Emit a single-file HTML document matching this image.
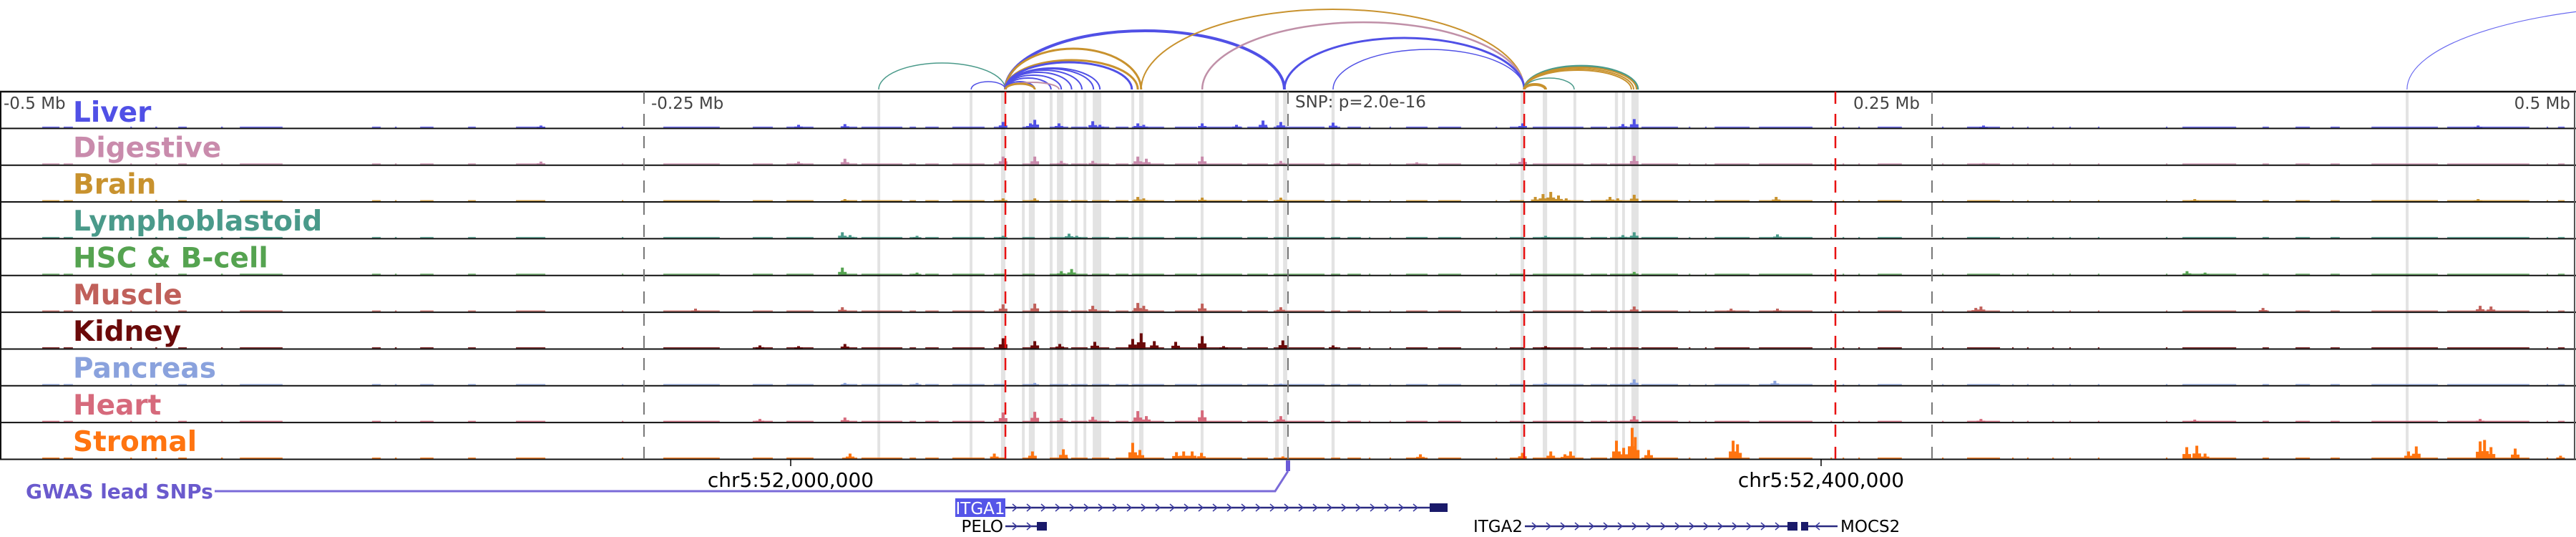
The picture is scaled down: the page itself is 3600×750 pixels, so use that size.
<!DOCTYPE html>
<html><head><meta charset="utf-8">
<style>
html,body{margin:0;padding:0;background:#fff;}
svg{display:block;}
.lbl{font-family:"DejaVu Sans","Liberation Sans",sans-serif;font-weight:bold;font-size:39px;}
.ax{font-family:"DejaVu Sans","Liberation Sans",sans-serif;font-size:23px;fill:#444;}
.gn{font-family:"DejaVu Sans","Liberation Sans",sans-serif;font-size:23px;}
</style></head>
<body>
<svg id="chart" width="3600" height="750" viewBox="0 0 3600 750" xmlns="http://www.w3.org/2000/svg">
<g id="highlights"></g>
<g id="arcs"></g>
<g id="tracks"></g>
<g id="guides"></g>
<g id="labels"></g>
<text class="ax" x="5" y="152">-0.5 Mb</text>
<text class="ax" x="910" y="152">-0.25 Mb</text>
<text class="ax" x="1810" y="150">SNP: p=2.0e-16</text>
<text class="ax" x="2590" y="152">0.25 Mb</text>
<text class="ax" x="3592" y="152" text-anchor="end">0.5 Mb</text>
<g id="bottom">
<line x1="1105" y1="641" x2="1105" y2="651" stroke="#000" stroke-width="1.5"/>
<line x1="2545" y1="641" x2="2545" y2="651" stroke="#000" stroke-width="1.5"/>
<text x="1105" y="680" text-anchor="middle" style="font-family:'DejaVu Sans','Liberation Sans',sans-serif;font-size:28px">chr5:52,000,000</text>
<text x="2545" y="680" text-anchor="middle" style="font-family:'DejaVu Sans','Liberation Sans',sans-serif;font-size:28px">chr5:52,400,000</text>
</g>
<g>
<rect x="1797" y="643" width="6" height="15" fill="#6a5ad8"/>
<polyline points="1800,658 1782,686 300,686" fill="none" stroke="#7a6ad8" stroke-width="3"/>
<text x="36" y="696" style="font-family:'DejaVu Sans','Liberation Sans',sans-serif;font-size:28px;font-weight:bold" fill="#6a5acd">GWAS lead SNPs</text>
</g>
<g id="genes"></g>
</svg>
<script>
// ---- data ----
const trackNames = ["Liver","Digestive","Brain","Lymphoblastoid","HSC & B-cell","Muscle","Kidney","Pancreas","Heart","Stromal"];
const trackColors = ["#5050e6","#c98bac","#c8922e","#4a9a8a","#55a350","#c0605a","#6b0a0a","#8aa2dd","#d66a7c","#ff7410"];
const baseSegments = [[-483.6,-476.9],[-475.3,-471.7],[-449.4,-448.8],[-439.7,-439],[-430.8,-427.5],[-414.2,-413.5],[-406.9,-390.3],[-355.6,-352.2],[-346.7,-346],[-336.9,-331.7],[-318.3,-315.3],[-299.7,-288.3],[-258.6,-258],[-242.5,-220.6],[-207.8,-200],[-194.7,-184.2],[-173.1,-167.2],[-165.6,-149.7],[-146.9,-144.4],[-140.8,-135.6],[-130.3,-117.8],[-114.2,-109.7],[-103.1,-98.3],[-92.5,-85.3],[-84.2,-77.8],[-76.1,-69.4],[-66.9,-61.9],[-60.6,-48.1],[-43.9,-35.3],[-33.9,-17.8],[-15.8,-7.8],[-5.6,14.2],[16.7,20.3],[23.1,28.3],[31.4,32],[39.4,40],[45.8,54.2],[58.3,67.2],[80.6,81.2],[86.1,91.7],[95,114.7],[117.5,123.9],[125,136.1],[137.2,151.4],[155.6,156.2],[161.9,162.5],[165.6,179.2],[182.8,203.6],[210.6,211.2],[215.3,215.9],[221.4,222],[228.9,238.3],[253.9,254.5],[263.6,276.4],[281.1,281.7],[286.9,287.5],[296.7,297.3],[303.3,303.9],[314.4,315],[340.8,341.4],[347.2,368.1],[378.3,380.8],[391.1,396.7],[404.7,408.3],[420.6,446.4],[450,481.9],[488.6,489.2],[493,495.6]];
const peaksLiver = [[-110.6,8],[-98.3,11],[-100,6],[-88.9,6],[-75.8,9],[-73,4],[-58.3,6],[-56,4],[-33.3,6],[-20,4],[-9.7,10],[-2.8,8],[-190,4],[-172,5],[17.5,7],[91.1,6],[134.4,12],[130,5],[-290,3],[270,3],[462,3]];
const peaksDigestive = [[-110.6,11],[-98.3,11],[-88,5],[-75.8,5],[-58.3,11],[-55,8],[-33.3,11],[-2.8,5],[-172,8],[-190,4],[91.1,9],[134.4,12],[-290,4],[50,3],[270,2]];
const peaksBrain = [[96,6],[99,10],[102,13],[105,8],[108,4],[-58.3,6],[-56,4],[-33.3,5],[-110.6,4],[-98.3,4],[-2.8,5],[125,6],[128,4],[134.4,9],[189.5,6],[-172,3],[352,3],[462,3]];
const peaksLympho = [[-173,8],[-170,4],[-144,3],[-85,6],[-82,3],[134.4,8],[130,4],[190,5],[-110.6,3],[100,3]];
const peaksHSC = [[-173,10],[-84,8],[-88,5],[-144,3],[134.4,4],[349,5],[356,3]];
const peaksMuscle = [[-110.6,10],[-98.3,11],[-75.8,8],[-58.3,12],[-56,8],[-33.3,11],[-173,6],[-2.8,6],[134.4,7],[-230,4],[172,4],[269,7],[267,5],[378.5,5],[462.8,8],[467,7],[190,4]];
const peaksKidney = [[-110.6,14],[-98.3,10],[-88.6,6],[-75,9],[-60.3,13],[-57,21],[-51.9,10],[-43.6,9],[-33.3,17],[-2,11],[-172,6],[-205,4],[17.5,4],[-25,3],[-190,3],[100,3]];
const peaksPancreas = [[134.4,8],[189,6],[-172,3],[-144,3],[-98.3,3],[-2.8,2],[100,3]];
const peaksHeart = [[-110.6,13],[-98.3,14],[-75.8,7],[-58.3,15],[-55,8],[-33.3,16],[-2.8,8],[134.4,8],[-172,6],[-205,4],[-88,5],[269,4],[462.8,4],[352,3]];
const peaksStromal = [[127.5,25],[130.3,15],[133.6,43],[134.8,30],[140,12],[172.8,25],[174.5,20],[102,10],[109.7,10],[107.5,6],[91,8],[51.4,6],[-60.3,22],[-57.5,12],[-87.2,13],[-99.2,10],[-114,7],[-43.3,9],[-40.5,10],[-37.2,10],[-33.6,8],[-170,7],[348.9,16],[352.8,18],[356,7],[435,10],[438,17],[462.8,24],[464.5,26],[467,16],[476.4,14],[494,4],[-2,3]];
const trackPeaks = [peaksLiver,peaksDigestive,peaksBrain,peaksLympho,peaksHSC,peaksMuscle,peaksKidney,peaksPancreas,peaksHeart,peaksStromal];
const highlightRegions = [[-159.4,-158.3],[-123.6,-122.5],[-111.4,-109.7],[-103.3,-102.2],[-100.6,-98.3],[-92.5,-91.4],[-89.7,-87.2],[-82.8,-81.7],[-79.4,-78.3],[-75.8,-72.5],[-60.8,-59.7],[-57.8,-56.1],[-33.9,-32.8],[-5,-3.6],[-1.9,-0.3],[16.9,18.1],[90.3,91.7],[98.9,100.6],[110.8,111.9],[126.9,128.1],[129.7,130.8],[133.3,136.1],[433.9,435]];
const arcStarts = [-158.9,-123,-109.7,-109.7,-109.7,-109.7,-109.7,-109.7,-109.7,-109.7,-109.7,-109.7,-109.7,-109.7,-109.7,-57,-33.3,-1.4,17.5,91.7,91.7,91.7,91.7,91.7,91.7,434.4];
const arcEnds   = [-109.7,-109.7,-1.4,-57,-58.3,-60.6,-98.3,-92,-88,-84,-80,-75.5,-73,-88.9,-98.3,91.7,91.7,91.7,91.7,135.8,135.3,134.2,133.3,111.1,100,650];
const arcHeights= [37,11,82,57,41,38,11,16,20,24,27,29,30,10,8,112,94,72,56,33,31,29,27,16,7,118];
const arcColors = ["#4a9a8a","#5050e6","#5050e6","#c8922e","#c8922e","#5050e6","#5050e6","#5050e6","#5050e6","#5050e6","#5050e6","#5050e6","#5050e6","#c090a8","#c8922e","#c8922e","#c090a8","#5050e6","#5050e6","#4a9a8a","#c8922e","#c8922e","#c8922e","#4a9a8a","#c8922e","#6a6af0"];
const arcWidths = [1.5,1.5,4,3,3,3,2,2,2,2,2,2,2,2,3,2,2.5,3,1.5,3,2,2,2,1.5,4,1.2];
const gridKb = [-250,0,250];
const redKb = [-109.7,91.7,212.5];

// ---- scales ----
const NS = "http://www.w3.org/2000/svg";
const TOP = 128, TH = 51.35, NT = 10, BOT = TOP + TH*NT;
function xs(kb){ return 1800 + kb*3.6; }
function mk(tag, attrs, parent){ const e=document.createElementNS(NS,tag); for(const k in attrs) e.setAttribute(k,attrs[k]); parent.appendChild(e); return e; }

const gH = document.getElementById('highlights');
highlightRegions.forEach((r,i)=>{
  const el = mk('rect',{x:xs(r[0]),y:TOP,width:Math.max(3,xs(r[1])-xs(r[0])),height:BOT-TOP,fill:'#e3e3e3'},gH);
  
  
});

const gA = document.getElementById('arcs');
arcStarts.forEach((s,i)=>{
  const x1=xs(s), x2=xs(arcEnds[i]); const a=Math.min(x1,x2), b=Math.max(x1,x2);
  const rx=(b-a)/2, ry=arcHeights[i], y0=125;
  const el = mk('path',{d:`M${a},${y0} A${rx},${ry} 0 0 1 ${b},${y0}`,fill:'none',stroke:arcColors[i],'stroke-width':arcWidths[i]},gA);
  
  
});

const gT = document.getElementById('tracks');
const gL = document.getElementById('labels');
for(let t=0;t<NT;t++){
  const top = TOP + t*TH, bot = top + TH;
  const g = mk('g',{},gT);
  
  
  const col = trackColors[t];
  baseSegments.forEach(s=>{
    const el = mk('rect',{x:xs(s[0]),y:bot-2.5,width:Math.max(2,xs(s[1])-xs(s[0])),height:1.5,fill:col,opacity:0.85},g);
    
    
  });
  trackPeaks[t].forEach(p=>{
    const cx = xs(p[0]), h = p[1];
    const el = mk('rect',{x:cx-2,y:bot-1-h,width:4,height:h,fill:col},g);
    
    
    const sh = mk('rect',{x:cx-6,y:bot-1-h*0.4,width:12,height:h*0.4,fill:col},g);
    
    
  });
  const ln = mk('line',{x1:0,y1:bot,x2:3600,y2:bot,stroke:'#111','stroke-width':2},g);
  
  
  const base = t===0 ? 170 : top+40;
  const tx = mk('text',{x:102,y:base,class:'lbl',fill:col},gL);
  tx.textContent = trackNames[t];
  
  
}
const gG = document.getElementById('guides');
let el;
el = mk('line',{x1:0,y1:TOP,x2:3600,y2:TOP,stroke:'#111','stroke-width':2.5},gG);
 
el = mk('line',{x1:1,y1:TOP,x2:1,y2:BOT,stroke:'#111','stroke-width':2},gG);
 
el = mk('line',{x1:3598,y1:TOP,x2:3598,y2:BOT,stroke:'#555','stroke-width':2},gG);
 
gridKb.forEach(k=>{
  const e = mk('line',{x1:xs(k),y1:TOP,x2:xs(k),y2:BOT,stroke:'#777','stroke-width':2,'stroke-dasharray':'17 14'},gG);
  
  
});
redKb.forEach(k=>{
  const e = mk('line',{x1:xs(k),y1:TOP,x2:xs(k),y2:BOT,stroke:'#e81010','stroke-width':2.5,'stroke-dasharray':'17 14'},gG);
  
  
});

const gGn = document.getElementById('genes');
function chevrons(g,x1,x2,y,dir){
  for(let x=x1+10;x<x2-12;x+=20){
    const d = dir>0 ? `M${x},${y-5} L${x+6},${y} L${x},${y+5}` : `M${x+6},${y-5} L${x},${y} L${x+6},${y+5}`;
    const c = mk('path',{d:d,fill:'none',stroke:'#3a3aa0','stroke-width':1.5},g);
    
    
  }
}
function gene(name,x1,x2,y,blocks,dir){
  const g = mk('g',{},gGn);
  
  
  mk('line',{x1:x1,y1:y,x2:x2,y2:y,stroke:'#2a2a80','stroke-width':2.5},g);
  chevrons(g,x1,x2,y,dir);
  blocks.forEach(b=>{ mk('rect',{x:b[0],y:y-6,width:b[1]-b[0],height:12,fill:'#1a1a6a'},g); });
  return g;
}
const gi = gene('ITGA1',1405,2000,709,[[1998,2023]],1);
el = mk('rect',{x:1335,y:696,width:70,height:26,fill:'#5555e8'},gi);
 
el = mk('text',{x:1370,y:718,'text-anchor':'middle',class:'gn',fill:'#fff'},gi); el.textContent='ITGA1';
 
const gp = gene('PELO',1405,1449,735,[[1449,1463]],1);
el = mk('text',{x:1402,y:743,'text-anchor':'end',class:'gn',fill:'#000'},gp); el.textContent='PELO';
 
const g2 = gene('ITGA2',2131,2498,735,[[2498,2512],[2517,2527]],1);
el = mk('text',{x:2128,y:743,'text-anchor':'end',class:'gn',fill:'#000'},g2); el.textContent='ITGA2';
 
const gm = gene('MOCS2',2527,2568,735,[],-1);
el = mk('text',{x:2572,y:743,class:'gn',fill:'#000'},gm); el.textContent='MOCS2';
 
</script>
</body></html>
